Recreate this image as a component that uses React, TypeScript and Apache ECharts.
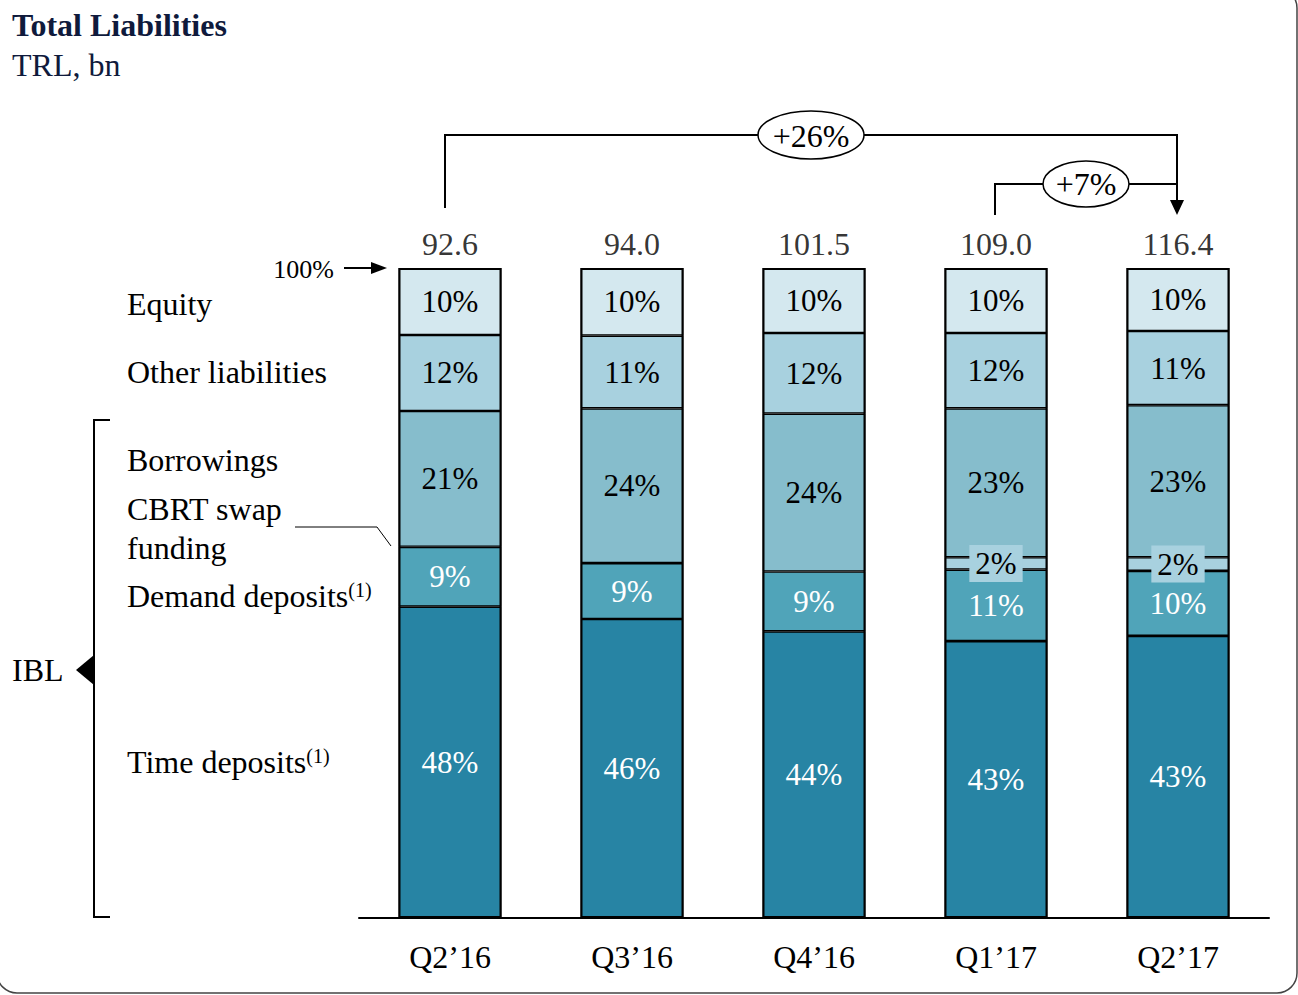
import React, { useEffect, useRef } from "react";
import * as echarts from "echarts";

const FONT = '"Liberation Serif", "Times New Roman", serif';

const categories = ["Q2’16", "Q3’16", "Q4’16", "Q1’17", "Q2’17"];
const totals = [92.6, 94.0, 101.5, 109.0, 116.4];
// shares in % of total liabilities (bottom to top)
const timeDeposits = [47.9, 46.0, 44.1, 42.6, 43.4];
const demandDeposits = [9.2, 8.6, 9.2, 11.0, 10.0];
const cbrtSwap = [null, null, null, 1.9, 2.1];
const borrowings = [20.9, 23.8, 24.3, 22.9, 23.4];
const otherLiabilities = [11.7, 11.2, 12.4, 11.6, 11.4];
const equity = [10.3, 10.4, 10.0, 10.0, 9.7];
const growthAnnotations = ["+26%", "+7%"];

const C_EQUITY = "#d4e8ef";
const C_OTHER = "#a8d1df";
const C_BORROW = "#86bdcc";
const C_CBRT = "#a8d1df";
const C_DEMAND = "#50a4b9";
const C_TIME = "#2784a4";

const FS = 32;
const FS_BAR = 31;
const BAR_W = 103;

function pct(p: any) {
  if (p.value == null || p.value === "-") return "";
  return Math.round(p.value) + "%";
}

function barSeries(name: string, data: any[], color: string, labelColor: string, extraLabel: any = {}) {
  return {
    name,
    type: "bar",
    stack: "total",
    barWidth: BAR_W,
    barGap: "-100%",
    data,
    silent: true,
    itemStyle: { color, borderColor: "#000", borderWidth: 1.3 },
    label: {
      show: true,
      position: "inside",
      color: labelColor,
      fontSize: FS_BAR,
      fontFamily: FONT,
      formatter: pct,
      ...extraLabel,
    },
  };
}

export default function App() {
  const ref = useRef<HTMLDivElement>(null);

  useEffect(() => {
    document.body.style.margin = "0";
    const chart = echarts.init(ref.current!, null, { renderer: "svg" });
    const shareSums = categories.map((_, i) =>
      [timeDeposits, demandDeposits, cbrtSwap, borrowings, otherLiabilities, equity].reduce(
        (s, arr) => s + (arr[i] == null ? 0 : (arr[i] as number)),
        0
      )
    );
    const option: any = {
      animation: false,
      grid: { left: 359, right: 29, top: 268, bottom: 77 },
      xAxis: {
        type: "category",
        data: categories,
        axisTick: { show: false },
        axisLine: { lineStyle: { color: "#000", width: 2 } },
        axisLabel: { color: "#000", fontSize: FS, fontFamily: FONT, margin: 23 },
      },
      yAxis: { type: "value", min: 0, max: 100, show: false },
      series: [
        barSeries("Time deposits", timeDeposits, C_TIME, "#fff"),
        barSeries("Demand deposits", demandDeposits, C_DEMAND, "#fff"),
        barSeries("CBRT swap funding", cbrtSwap, C_CBRT, "#000", {
          backgroundColor: C_CBRT,
          padding: [4, 6, 2, 6],
        }),
        barSeries("Borrowings", borrowings, C_BORROW, "#000"),
        barSeries("Other liabilities", otherLiabilities, C_OTHER, "#000"),
        barSeries("Equity", equity, C_EQUITY, "#000"),
        {
          name: "Outline",
          type: "bar",
          stack: "outline",
          barWidth: BAR_W,
          barGap: "-100%",
          silent: true,
          z: 3,
          data: shareSums,
          itemStyle: { color: "rgba(0,0,0,0)", borderColor: "#000", borderWidth: 2 },
          label: { show: false },
        },
        {
          name: "Total",
          type: "scatter",
          silent: true,
          symbolSize: 0,
          itemStyle: { color: "#000" },
          data: totals.map((t) => ({ value: 100, total: t })),
          label: {
            show: true,
            position: "top",
            distance: 8,
            color: "#000",
            fontSize: FS,
            fontFamily: FONT,
            formatter: (p: any) => p.data.total.toFixed(1),
          },
        },
      ],
    };
    chart.setOption(option);

    const cx = categories.map((c) => chart.convertToPixel({ xAxisIndex: 0 }, c) as number);
    const yTop = chart.convertToPixel({ yAxisIndex: 0 }, 100) as number;
    const yBase = chart.convertToPixel({ yAxisIndex: 0 }, 0) as number;

    const line = (points: number[][], w = 2) => ({
      type: "polyline",
      shape: { points },
      style: { stroke: "#000", lineWidth: w, fill: null },
      silent: true,
      z: 10,
    });
    const txt = (x: number, y: number, text: string, extra: any = {}) => ({
      type: "text",
      x,
      y,
      silent: true,
      z: 20,
      style: {
        text,
        fill: "#000",
        fontSize: FS,
        fontFamily: FONT,
        align: "left",
        verticalAlign: "middle",
        ...extra,
      },
    });
    const supText = (x: number, y: number, main: string) => ({
      type: "text",
      x,
      y,
      silent: true,
      z: 20,
      style: {
        text: `{m|${main}}{s|(1)}`,
        fill: "#000",
        align: "left",
        verticalAlign: "middle",
        rich: {
          m: { fontSize: FS, fontFamily: FONT, fill: "#000" },
          s: { fontSize: 20, fontFamily: FONT, fill: "#000", verticalAlign: "top" },
        },
      },
    });

    const bigL = cx[0] - 5;
    const bigR = cx[4] - 1;
    const smallL = cx[3] - 1;
    const bigY = yTop - 133;
    const smallY = yTop - 84;
    const bigMid = (bigL + bigR) / 2;
    const smallMid = (smallL + bigR) / 2;

    const graphic: any[] = [
      // outer rounded frame
      {
        type: "rect",
        shape: { x: -3, y: -12, width: 1300, height: 1005, r: 20 },
        style: { fill: null, stroke: "#444", lineWidth: 1.5 },
        silent: true,
        z: 1,
      },
      txt(12, 25, "Total Liabilities", { fontWeight: "bold", fill: "#0f1a3c" }),
      txt(12, 65, "TRL, bn", { fill: "#0f1a3c" }),
      // +26% bracket
      line([[bigL, yTop - 60], [bigL, bigY], [bigR, bigY], [bigR, yTop - 66]]),
      {
        type: "polygon",
        shape: { points: [[bigR - 7, yTop - 68], [bigR + 7, yTop - 68], [bigR, yTop - 53]] },
        style: { fill: "#000" },
        silent: true,
        z: 10,
      },
      {
        type: "ellipse",
        shape: { cx: bigMid, cy: bigY, rx: 53, ry: 24 },
        style: { fill: "#fff", stroke: "#000", lineWidth: 1.5 },
        silent: true,
        z: 15,
      },
      txt(bigMid, bigY + 1, growthAnnotations[0], { align: "center" }),
      // +7% bracket
      line([[smallL, yTop - 53], [smallL, smallY], [bigR, smallY]]),
      {
        type: "ellipse",
        shape: { cx: smallMid, cy: smallY, rx: 43, ry: 23 },
        style: { fill: "#fff", stroke: "#000", lineWidth: 1.5 },
        silent: true,
        z: 15,
      },
      txt(smallMid, smallY, growthAnnotations[1], { align: "center" }),
      // 100% arrow
      txt(334, yTop + 1, "100%", { align: "right", fontSize: 26 }),
      line([[344, yTop], [374, yTop]], 2),
      {
        type: "polygon",
        shape: { points: [[371, yTop - 6], [371, yTop + 6], [387, yTop]] },
        style: { fill: "#000" },
        silent: true,
        z: 10,
      },
      // left labels
      txt(127, 304, "Equity"),
      txt(127, 372, "Other liabilities"),
      txt(127, 460, "Borrowings"),
      txt(127, 509, "CBRT swap"),
      txt(127, 548, "funding"),
      supText(127, 596, "Demand deposits"),
      supText(127, 762, "Time deposits"),
      line([[295, 527], [377, 527], [391, 546]], 1),
      // IBL bracket
      line([[110, 420], [94, 420], [94, yBase - 1], [110, yBase - 1]], 2),
      {
        type: "polygon",
        shape: { points: [[76, 670], [94, 655], [94, 685]] },
        style: { fill: "#000" },
        silent: true,
        z: 10,
      },
      txt(12, 670, "IBL"),
    ];
    chart.setOption({ graphic });

    return () => chart.dispose();
  }, []);

  return <div ref={ref} style={{ width: 1298, height: 995 }} />;
}
